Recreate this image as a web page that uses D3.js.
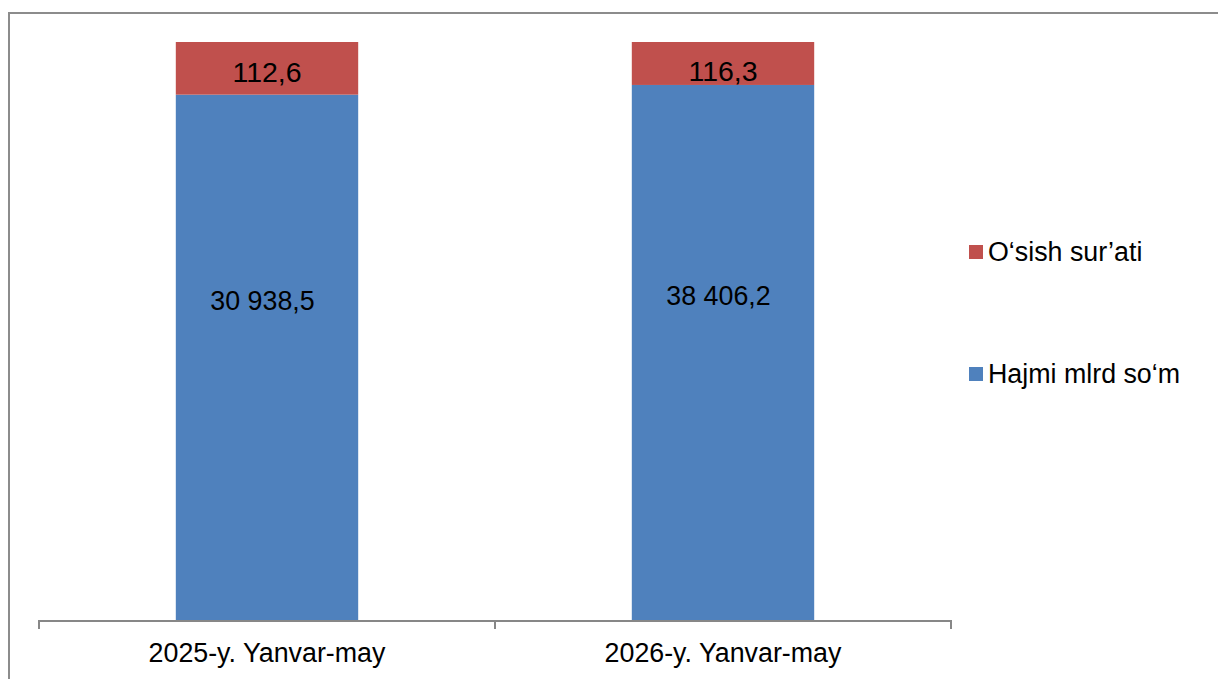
<!DOCTYPE html>
<html>
<head>
<meta charset="utf-8">
<script src="https://cdn.jsdelivr.net/npm/d3@7/dist/d3.min.js"></script>
<style>
  html, body { margin: 0; padding: 0; background: #fff; }
  svg { display: block; font-family: Arial, "Liberation Sans", sans-serif; }
</style>
</head>
<body>
<svg id="chart" width="1218" height="679"></svg>
<script>
// ---- data ----
const categories = ["2025-y. Yanvar-may", "2026-y. Yanvar-may"];
const volume = [30938.5, 38406.2];          // Hajmi mlrd so‘m
const growth = [112.6, 116.3];              // O‘sish sur’ati
const volumeLabels = ["30 938,5", "38 406,2"];
const growthLabels = ["112,6", "116,3"];
const seriesNames = ["O‘sish sur’ati", "Hajmi mlrd so‘m"];
const seriesColors = ["#C0504D", "#4F81BD"];

// ---- layout ----
const W = 1218, H = 679;
const plot = { left: 39, right: 951, top: 42, bottom: 621 };
const fs = 26.8;

const svg = d3.select("#chart");

// outer frame
svg.append("rect")
  .attr("x", 9).attr("y", 13)
  .attr("width", W + 20).attr("height", H + 20)
  .attr("fill", "none").attr("stroke", "#8c8c8c").attr("stroke-width", 2);

const x = d3.scaleBand()
  .domain(categories)
  .range([plot.left, plot.right])
  .paddingInner(0.6)
  .paddingOuter(0.3);

const y = d3.scaleLog()
  .domain([0.25, 100000])
  .range([plot.bottom, plot.top]);

const rows = categories.map((c, i) => ({
  cat: c, vol: volume[i], gr: growth[i],
  volLabel: volumeLabels[i], grLabel: growthLabels[i]
}));

// blue bars (volume)
svg.append("g").selectAll("rect").data(rows).join("rect")
  .attr("x", d => x(d.cat))
  .attr("width", x.bandwidth())
  .attr("y", d => y(d.vol))
  .attr("height", d => y.range()[0] - y(d.vol))
  .attr("fill", seriesColors[1]);

// red caps (growth rate) stacked to the top of the axis
svg.append("g").selectAll("rect").data(rows).join("rect")
  .attr("x", d => x(d.cat))
  .attr("width", x.bandwidth())
  .attr("y", y(y.domain()[1]))
  .attr("height", d => y(d.vol) - y(y.domain()[1]))
  .attr("fill", seriesColors[0]);

// axis line + ticks at band boundaries
const axisG = svg.append("g");
axisG.append("line")
  .attr("x1", plot.left).attr("x2", plot.right)
  .attr("y1", plot.bottom).attr("y2", plot.bottom)
  .attr("stroke", "#878787").attr("stroke-width", 2);
const bounds = d3.range(categories.length + 1).map(i =>
  x.range()[0] + i * (x.range()[1] - x.range()[0]) / categories.length);
axisG.selectAll("line.tick").data(bounds).join("line")
  .attr("class", "tick")
  .attr("x1", d => d).attr("x2", d => d)
  .attr("y1", plot.bottom - 1).attr("y2", plot.bottom + 8)
  .attr("stroke", "#878787").attr("stroke-width", 2);
axisG.selectAll("text").data(categories).join("text")
  .attr("x", d => x(d) + x.bandwidth() / 2)
  .attr("y", 662)
  .attr("text-anchor", "middle")
  .attr("font-size", fs)
  .attr("fill", "#000")
  .text(d => d);

// data labels
const plotH = plot.bottom - plot.top;
const blueAnchor = plot.top + 0.801 * plotH;
svg.append("g").selectAll("text").data(rows).join("text")
  .attr("x", d => x(d.cat) + x.bandwidth() / 2 - 4.5)
  .attr("y", d => (y(d.vol) + blueAnchor) / 2 + 0.358 * fs)
  .attr("text-anchor", "middle")
  .attr("font-size", fs)
  .attr("fill", "#000")
  .text(d => d.volLabel);

svg.append("g").selectAll("text").data(rows).join("text")
  .attr("x", d => x(d.cat) + x.bandwidth() / 2)
  .attr("y", (d, i) => plot.top + 30 - i + 0.358 * 28.5)
  .attr("text-anchor", "middle")
  .attr("font-size", 28.5)
  .attr("fill", "#000")
  .text(d => d.grLabel);

// legend
const legend = svg.append("g");
const legendY = [252, 374];
seriesNames.forEach((name, i) => {
  legend.append("rect")
    .attr("x", 969).attr("y", legendY[i] - 7)
    .attr("width", 14).attr("height", 14)
    .attr("fill", seriesColors[i]);
  legend.append("text")
    .attr("x", 988).attr("y", legendY[i] + 9)
    .attr("font-size", fs)
    .attr("fill", "#000")
    .text(name);
});
</script>
</body>
</html>
